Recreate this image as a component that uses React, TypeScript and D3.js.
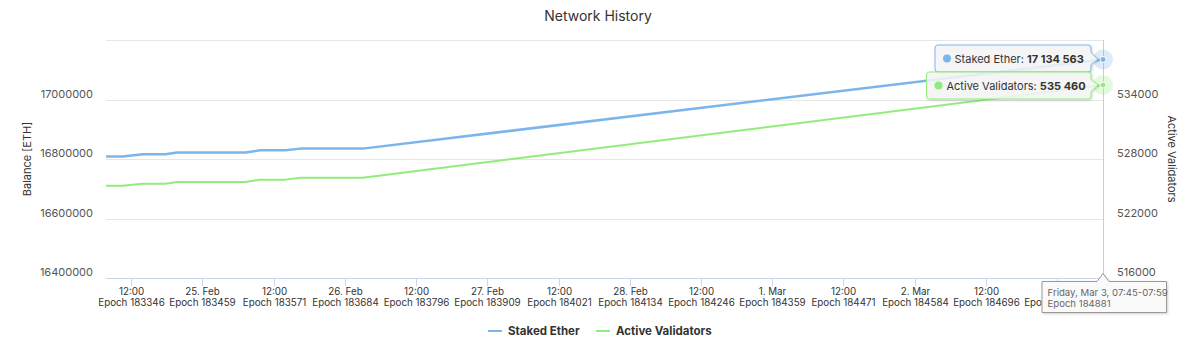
import React from "react";
import * as d3 from "d3";

const chartTitle = "Network History";
const seriesNames = ["Staked Ether", "Active Validators"];
const seriesColors = ["#7cb5ec", "#90ed7d"];

const pointTimes = [
  "2023-02-24T07:45:00Z",
  "2023-02-24T10:30:00Z",
  "2023-02-24T14:00:00Z",
  "2023-02-24T17:45:00Z",
  "2023-02-24T19:45:00Z",
  "2023-02-25T07:15:00Z",
  "2023-02-25T09:45:00Z",
  "2023-02-25T14:00:00Z",
  "2023-02-25T16:30:00Z",
  "2023-02-26T03:00:00Z",
  "2023-03-03T07:45:00Z",
];
const stakedEther = [
  16808050, 16808050, 16815800, 16815800, 16821500, 16821500, 16829200,
  16829200, 16834900, 16834900, 17134563,
];
const activeValidators = [
  525300, 525300, 525500, 525500, 525680, 525680, 525920, 525920, 526120,
  526120, 535460,
];

const xTickTimes = [
  "2023-02-24T12:00:00Z",
  "2023-02-25T00:00:00Z",
  "2023-02-25T12:00:00Z",
  "2023-02-26T00:00:00Z",
  "2023-02-26T12:00:00Z",
  "2023-02-27T00:00:00Z",
  "2023-02-27T12:00:00Z",
  "2023-02-28T00:00:00Z",
  "2023-02-28T12:00:00Z",
  "2023-03-01T00:00:00Z",
  "2023-03-01T12:00:00Z",
  "2023-03-02T00:00:00Z",
  "2023-03-02T12:00:00Z",
  "2023-03-03T00:00:00Z",
];
const xTickEpochs = [
  183346, 183459, 183571, 183684, 183796, 183909, 184021, 184134, 184246,
  184359, 184471, 184584, 184696, 184809,
];
const leftTicks = [16400000, 16600000, 16800000, 17000000, 17200000];
const rightTicks = [516000, 522000, 528000, 534000, 540000];
const leftAxisTitle = "Balance [ETH]";
const rightAxisTitle = "Active Validators";
const tooltipHeader = "Friday, Mar 3, 07:45-07:59";
const tooltipEpoch = "Epoch 184881";

const W = 1200;
const H = 359;
const L = 106;
const R = 1103;
const T = 40;
const B = 278;
const FONT = "Inter, 'Noto Sans', sans-serif";

export default function App() {
  const dates = pointTimes.map((s) => new Date(s));
  const x = d3
    .scaleUtc()
    .domain([dates[0], dates[dates.length - 1]])
    .range([L, R]);
  const yL = d3.scaleLinear().domain([16400000, 17200000]).range([B, T]);
  const yR = d3.scaleLinear().domain([516000, 540000]).range([B, T]);

  const lineL = d3
    .line<number>()
    .x((_, i) => x(dates[i]))
    .y((d) => yL(d));
  const lineR = d3
    .line<number>()
    .x((_, i) => x(dates[i]))
    .y((d) => yR(d));

  const fmtTick = (d: Date) =>
    d.getUTCHours() === 12 ? "12:00" : d3.utcFormat("%-d. %b")(d);
  const fmtNum = (v: number) => d3.format(",")(v).replace(/,/g, " ");

  const last = dates.length - 1;
  const px = x(dates[last]);
  const pyL = yL(stakedEther[last]);
  const pyR = yR(activeValidators[last]);

  const box1 = { x: 935, y: 45, w: 156, h: 27 };
  const box2 = { x: 926.5, y: 72, w: 164.5, h: 27 };
  const calloutPath = (
    b: { x: number; y: number; w: number; h: number },
    ax: number,
    ay: number
  ) => {
    const r = 3;
    const cy = b.y + b.h / 2;
    return `M${b.x + r},${b.y} L${b.x + b.w - r},${b.y} Q${b.x + b.w},${b.y} ${b.x + b.w},${b.y + r}
      L${b.x + b.w},${cy - 6} L${ax},${ay} L${b.x + b.w},${cy + 6}
      L${b.x + b.w},${b.y + b.h - r} Q${b.x + b.w},${b.y + b.h} ${b.x + b.w - r},${b.y + b.h}
      L${b.x + r},${b.y + b.h} Q${b.x},${b.y + b.h} ${b.x},${b.y + b.h - r}
      L${b.x},${b.y + r} Q${b.x},${b.y} ${b.x + r},${b.y} Z`;
  };
  const hb = { x: 1042, y: 281.5, w: 124.5, h: 31 };
  const headerPath = `M${hb.x},${hb.y} L${px - 6},${hb.y} L${px},${hb.y - 8} L${px + 6},${hb.y} L${hb.x + hb.w},${hb.y} L${hb.x + hb.w},${hb.y + hb.h} L${hb.x},${hb.y + hb.h} Z`;

  return (
    <div style={{ position: "absolute", left: 0, top: 0 }}>
      <svg width={W} height={H} style={{ display: "block", fontFamily: FONT }}>
        <defs>
          <filter id="sh" x="-10%" y="-20%" width="130%" height="160%">
            <feDropShadow dx="1" dy="1" stdDeviation="1.2" floodColor="#000" floodOpacity="0.18" />
          </filter>
          <clipPath id="tickclip">
            <rect x={0} y={0} width={hb.x} height={H} />
          </clipPath>
        </defs>
        <rect width={W} height={H} fill="#fff" />
        <text x={598} y={21} textAnchor="middle" fontSize={14} fill="#333">
          {chartTitle}
        </text>

        {leftTicks.map((t) => (
          <line
            key={t}
            x1={L}
            x2={R}
            y1={Math.round(yL(t)) + 0.5}
            y2={Math.round(yL(t)) + 0.5}
            stroke="#e6e6e6"
          />
        ))}
        <line x1={L} x2={R} y1={B + 0.5} y2={B + 0.5} stroke="#ccd6eb" />
        {xTickTimes.map((s, i) => {
          const d = new Date(s);
          const tx = Math.round(x(d)) + 0.5;
          return (
            <g key={s}>
              <line x1={tx} x2={tx} y1={B} y2={B + 8} stroke="#ccd6eb" />
              <g clipPath="url(#tickclip)">
                {tx + 16 < hb.x && (
                  <text x={tx} y={294.5} textAnchor="middle" fontSize={9.8} fill="#333">
                    {fmtTick(d)}
                  </text>
                )}
                <text x={tx} y={306} textAnchor="middle" fontSize={9.8} fill="#333">
                  {"Epoch " + xTickEpochs[i]}
                </text>
              </g>
            </g>
          );
        })}

        {leftTicks.slice(0, -1).map((t) => (
          <text key={t} x={93} y={yL(t) - 2} textAnchor="end" fontSize={11} fill="#555">
            {t}
          </text>
        ))}
        {rightTicks.slice(0, -1).map((t) => (
          <text key={t} x={1117} y={yR(t) - 2} textAnchor="start" fontSize={11} fill="#555">
            {t}
          </text>
        ))}
        <text
          transform={`translate(31,${(T + B) / 2}) rotate(-90)`}
          textAnchor="middle"
          fontSize={11}
          fill="#333"
        >
          {leftAxisTitle}
        </text>
        <text
          transform={`translate(1168,${(T + B) / 2}) rotate(90)`}
          textAnchor="middle"
          fontSize={11}
          fill="#333"
        >
          {rightAxisTitle}
        </text>

        <line
          x1={Math.round(px) + 0.5}
          x2={Math.round(px) + 0.5}
          y1={T}
          y2={B}
          stroke="#cccccc"
        />

        <path
          d={lineL(stakedEther) || ""}
          fill="none"
          stroke={seriesColors[0]}
          strokeWidth={2.5}
          strokeLinejoin="round"
        />
        <path
          d={lineR(activeValidators) || ""}
          fill="none"
          stroke={seriesColors[1]}
          strokeWidth={2}
          strokeLinejoin="round"
        />

        <circle cx={px} cy={pyL} r={10} fill={seriesColors[0]} fillOpacity={0.25} />
        <circle cx={px} cy={pyL} r={3} fill={seriesColors[0]} stroke="#fff" strokeWidth={1} />
        <circle cx={px} cy={pyR} r={10} fill={seriesColors[1]} fillOpacity={0.25} />
        <circle cx={px} cy={pyR} r={3} fill={seriesColors[1]} stroke="#fff" strokeWidth={1} />

        <g filter="url(#sh)">
          <path d={calloutPath(box1, px - 5, pyL)} fill="rgba(247,247,247,0.85)" stroke={seriesColors[0]} />
        </g>
        <circle cx={box1.x + 12} cy={box1.y + 13.5} r={4} fill={seriesColors[0]} />
        <text x={box1.x + 19.5} y={box1.y + 17.5} fontSize={11} fill="#333">
          {seriesNames[0] + ": "}
          <tspan fontWeight="bold">{fmtNum(stakedEther[last])}</tspan>
        </text>
        <g filter="url(#sh)">
          <path d={calloutPath(box2, px - 5, pyR)} fill="rgba(247,247,247,0.85)" stroke={seriesColors[1]} />
        </g>
        <circle cx={box2.x + 12} cy={box2.y + 13.5} r={4} fill={seriesColors[1]} />
        <text x={box2.x + 20} y={box2.y + 17.5} fontSize={11} fill="#333">
          {seriesNames[1] + ": "}
          <tspan fontWeight="bold">{fmtNum(activeValidators[last])}</tspan>
        </text>

        <g filter="url(#sh)">
          <path d={headerPath} fill="rgba(250,250,250,1)" stroke="#999" />
        </g>
        <text x={hb.x + 5.5} y={hb.y + 14.5} fontSize={9.6} fill="#666">
          {tooltipHeader}
        </text>
        <text x={hb.x + 5.5} y={hb.y + 25.5} fontSize={9.6} fill="#666">
          {tooltipEpoch}
        </text>

        <line x1={488} x2={502} y1={331} y2={331} stroke={seriesColors[0]} strokeWidth={2} />
        <text x={508} y={335} fontSize={11.5} fontWeight="bold" fill="#333">
          {seriesNames[0]}
        </text>
        <line x1={596} x2={610} y1={331} y2={331} stroke={seriesColors[1]} strokeWidth={2} />
        <text x={616} y={335} fontSize={11.5} fontWeight="bold" fill="#333">
          {seriesNames[1]}
        </text>
      </svg>
    </div>
  );
}
